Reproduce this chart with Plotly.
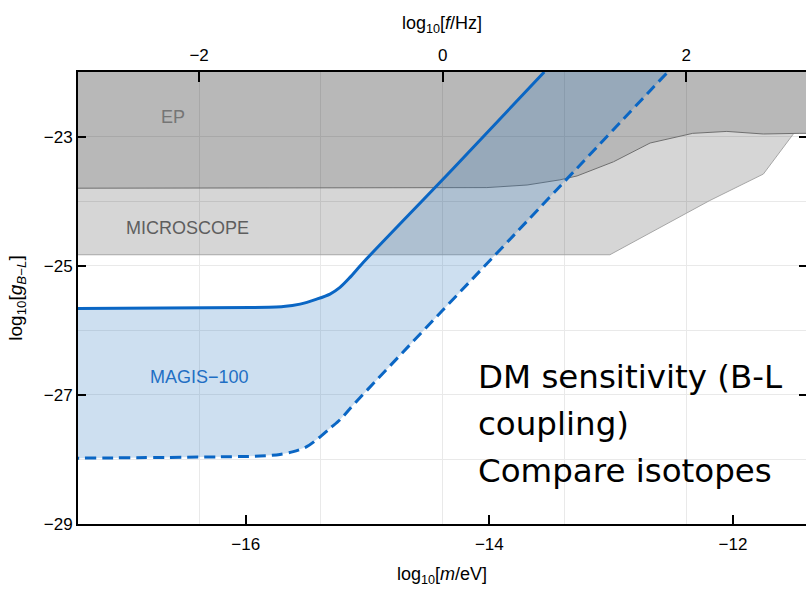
import plotly.graph_objects as go

# log10(f/Hz) = log10(m/eV) + log10(eV/h)
F_OFFSET = 14.383

X_RANGE = [-17.377, -11.40]
Y_RANGE = [-29.0, -22.0]

# EP: lower edge of the excluded region
ep_logm = [-17.6, -14.38, -14.02, -13.69, -13.42, -13.28, -12.98, -12.68, -12.33, -12.05, -11.75, -11.45, -11.2]
ep_logg = [-23.80, -23.79, -23.79, -23.75, -23.67, -23.61, -23.39, -23.10, -22.95, -22.92, -22.96, -22.95, -22.95]

# MICROSCOPE: lower edge of the excluded region (joins the EP edge on the right)
micro_logm = [-17.6, -13.01, -12.19, -11.75, -11.50]
micro_logg = [-24.83, -24.83, -23.99, -23.58, -22.95]

# MAGIS-100 projected sensitivity, two isotope configurations
magis_solid_logm = [-17.6, -15.965, -15.691, -15.554, -15.417, -15.308, -15.226, -15.144, -15.034, -14.30, -13.549]
magis_solid_logg = [-25.664, -25.648, -25.632, -25.595, -25.517, -25.439, -25.336, -25.181, -24.947, -23.502, -22.0]

magis_dash_logm = [-17.6, -16.129, -15.883, -15.719, -15.609, -15.499, -15.404, -15.308, -15.226, -15.103, -13.80, -12.535]
magis_dash_logg = [-27.984, -27.958, -27.947, -27.922, -27.880, -27.802, -27.673, -27.517, -27.386, -27.128, -24.530, -22.0]

region_labels = ["EP", "MICROSCOPE", "MAGIS−100"]
region_label_logm = [-16.60, -16.48, -16.38]
region_label_logg = [-22.70, -24.41, -26.73]
region_label_colors = ["#757575", "#5e5e5e", "#1f6fc4"]

slide_lines = ["DM sensitivity (B-L", "coupling)", "Compare isotopes"]

GRID = "#e9e9e9"
BLUE = "#0a66c4"
TOP = -21.8  # fill ceiling, clipped by the plot area

fig = go.Figure()

# EP excluded region
fig.add_trace(go.Scatter(
    x=[ep_logm[0]] + ep_logm + [ep_logm[-1]],
    y=[TOP] + ep_logg + [TOP],
    mode="none", fill="toself", fillcolor="rgba(0,0,0,0.28)", hoverinfo="skip"))

# MICROSCOPE excluded region, between its edge and the EP edge
ep_inside = [(m, g) for m, g in zip(ep_logm, ep_logg) if m < micro_logm[-1]]
fig.add_trace(go.Scatter(
    x=micro_logm + [m for m, _ in reversed(ep_inside)],
    y=micro_logg + [g for _, g in reversed(ep_inside)],
    mode="none", fill="toself", fillcolor="rgba(0,0,0,0.16)", hoverinfo="skip"))

fig.add_trace(go.Scatter(x=micro_logm, y=micro_logg, mode="lines",
                         line=dict(color="#a6a6a6", width=1), hoverinfo="skip"))
fig.add_trace(go.Scatter(x=ep_logm, y=ep_logg, mode="lines",
                         line=dict(color="#6f6f6f", width=1), hoverinfo="skip"))

# MAGIS-100 band between the two configurations
band_x = magis_solid_logm + magis_dash_logm[::-1]
band_y = magis_solid_logg + magis_dash_logg[::-1]
fig.add_trace(go.Scatter(x=band_x, y=band_y, mode="none", fill="toself",
                         fillcolor="rgba(47,122,192,0.24)", hoverinfo="skip"))

fig.add_trace(go.Scatter(x=magis_solid_logm, y=magis_solid_logg, mode="lines",
                         line=dict(color=BLUE, width=3, shape="spline", smoothing=0.8)))
fig.add_trace(go.Scatter(x=magis_dash_logm, y=magis_dash_logg, mode="lines",
                         line=dict(color=BLUE, width=3, dash="11px,6px",
                                   shape="spline", smoothing=0.8)))

# empty trace so the frequency axis and the right-hand ticks are laid out
fig.add_trace(go.Scatter(x=[], y=[], xaxis="x2", yaxis="y2", hoverinfo="skip"))

for text, m, g, c in zip(region_labels, region_label_logm, region_label_logg, region_label_colors):
    fig.add_annotation(x=m, y=g, xref="x", yref="y", text=text, showarrow=False,
                       font=dict(family="Liberation Sans, Arial, sans-serif", size=18, color=c))

slide_y = [0.326, 0.222, 0.118]
for text, yy in zip(slide_lines, slide_y):
    fig.add_annotation(x=0.5467, y=yy, xref="paper", yref="paper", text=text,
                       showarrow=False, xanchor="left", yanchor="middle",
                       font=dict(family="DejaVu Sans", size=32.5, color="black"))

axis_common = dict(ticks="inside", tickwidth=2, tickcolor="black", showline=True,
                   linecolor="black", linewidth=2, zeroline=False, layer="above traces",
                   tickfont=dict(size=17, color="black"))

fig.update_layout(
    width=806, height=592,
    margin=dict(l=78, r=0, t=72, b=68),
    paper_bgcolor="white", plot_bgcolor="white", showlegend=False,
    font=dict(family="Liberation Sans, Arial, sans-serif", size=16, color="black"),
    xaxis=dict(range=X_RANGE, tick0=-16, dtick=2, ticklen=9, showgrid=False,
               ticklabelstandoff=4,
               title=dict(text="log<sub>10</sub>[<i>m</i>/eV]", font=dict(size=18), standoff=14),
               **axis_common),
    xaxis2=dict(overlaying="x", side="top", anchor="y",
                range=[X_RANGE[0] + F_OFFSET, X_RANGE[1] + F_OFFSET],
                tick0=0, dtick=2, ticklen=10, showgrid=True, gridcolor=GRID, gridwidth=1,
                ticklabelstandoff=2,
                minor=dict(dtick=1, tick0=0, showgrid=True, gridcolor=GRID, gridwidth=1),
                title=dict(text="log<sub>10</sub>[<i>f</i>/Hz]", font=dict(size=18), standoff=12),
                **axis_common),
    yaxis=dict(range=Y_RANGE, tick0=-29, dtick=2, ticklen=8, showgrid=True,
               gridcolor=GRID, gridwidth=1,
               minor=dict(dtick=1, tick0=-29, showgrid=True, gridcolor=GRID, gridwidth=1),
               title=dict(text="log<sub>10</sub>[<i>g</i><sub><i>B</i>−<i>L</i></sub>]",
                          font=dict(size=19), standoff=16),
               **axis_common),
    yaxis2=dict(overlaying="y", side="right", anchor="x", range=Y_RANGE, tick0=-29, dtick=2,
                ticks="inside", ticklen=7, tickwidth=2, tickcolor="black", layer="above traces",
                showticklabels=False, showgrid=False, showline=False, zeroline=False),
)

fig.write_html("out.html")
